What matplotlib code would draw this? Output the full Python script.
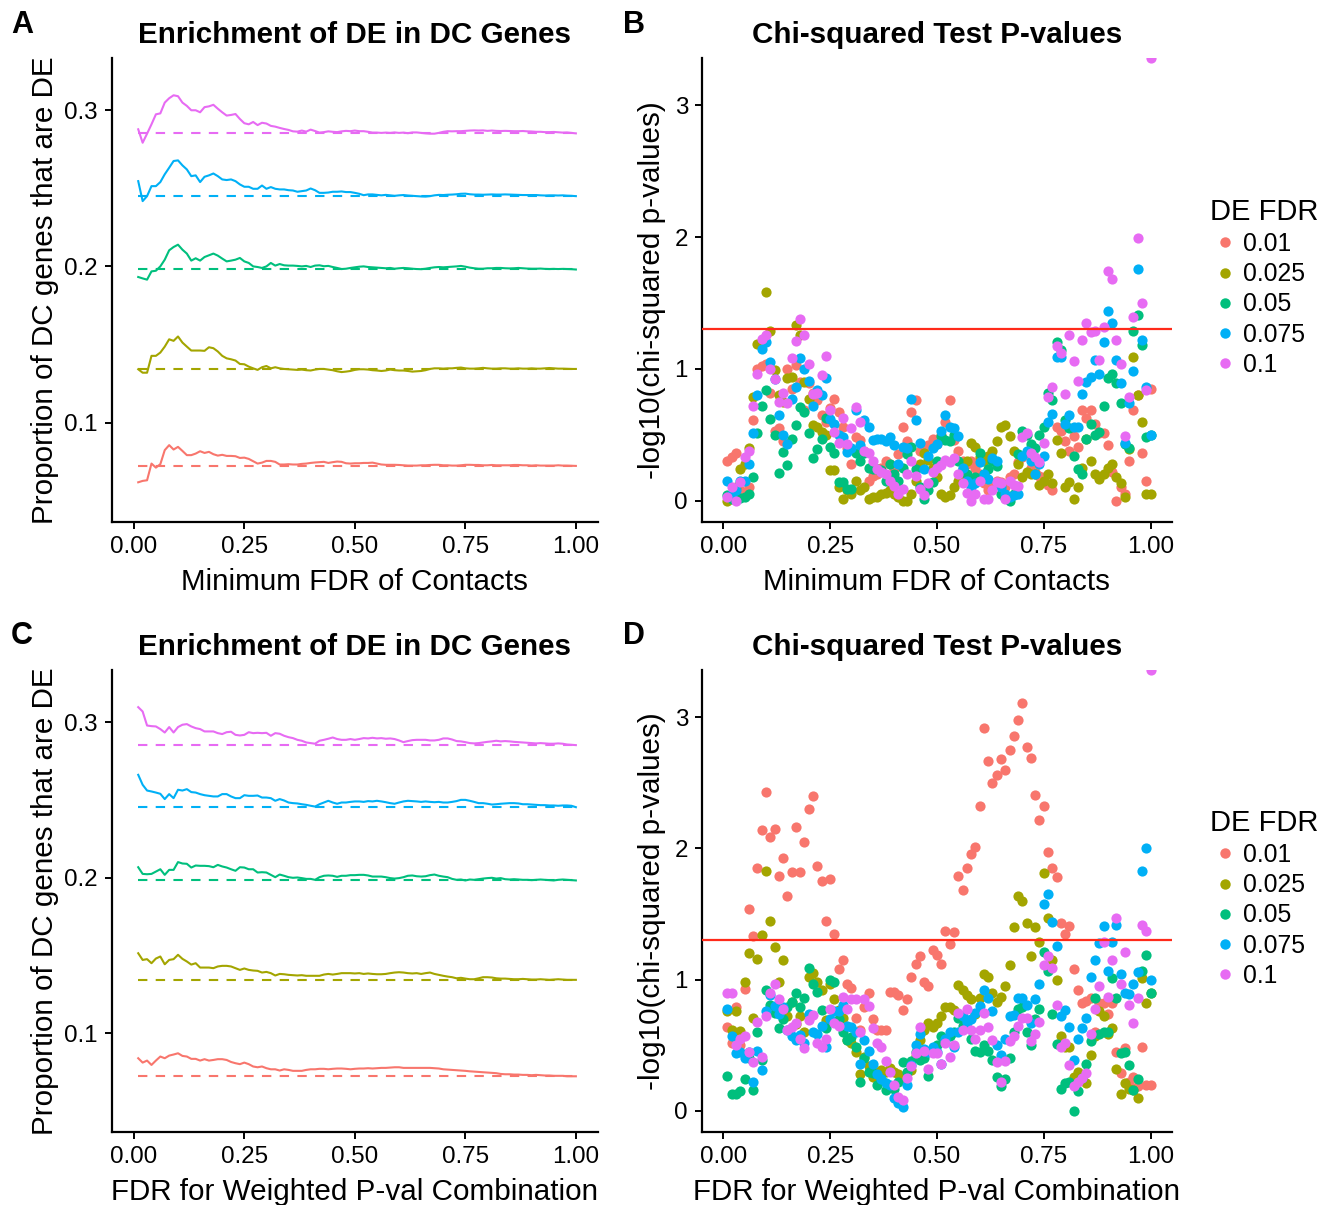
import numpy as np
import matplotlib
matplotlib.use("Agg")
import matplotlib.pyplot as plt
from matplotlib.lines import Line2D

plt.rcParams['font.family'] = ['Liberation Sans', 'DejaVu Sans']

# DE FDR levels and ggplot hue colours
fdr_labels = ["0.01", "0.025", "0.05", "0.075", "0.1"]
colors = ["#F8766D", "#A3A500", "#00BF7D", "#00B0F6", "#E76BF3"]

# FDR threshold grid (x axis of every panel)
fdr_grid = np.round(np.linspace(0.01, 1.00, 100), 2)

# background proportion of DE genes (dashed lines)
baseline = [0.0722, 0.1343, 0.1982, 0.2451, 0.2852]

# ---- Panel A : proportion DE, by minimum FDR of contacts
propA_001 = [0.0617, 0.0626, 0.0630, 0.0737, 0.0711, 0.0733, 0.0823, 0.0855, 0.0827, 0.0844,
             0.0818, 0.0791, 0.0791, 0.0801, 0.0816, 0.0805, 0.0812, 0.0797, 0.0788, 0.0793,
             0.0786, 0.0786, 0.0784, 0.0773, 0.0775, 0.0767, 0.0752, 0.0737, 0.0743, 0.0754,
             0.0754, 0.0748, 0.0731, 0.0731, 0.0733, 0.0731, 0.0731, 0.0735, 0.0737, 0.0741,
             0.0744, 0.0746, 0.0748, 0.0741, 0.0746, 0.0750, 0.0748, 0.0739, 0.0737, 0.0739,
             0.0739, 0.0741, 0.0741, 0.0743, 0.0737, 0.0731, 0.0729, 0.0729, 0.0729, 0.0728,
             0.0726, 0.0724, 0.0724, 0.0724, 0.0726, 0.0726, 0.0728, 0.0729, 0.0729, 0.0726,
             0.0726, 0.0724, 0.0724, 0.0726, 0.0729, 0.0729, 0.0728, 0.0728, 0.0726, 0.0726,
             0.0728, 0.0726, 0.0726, 0.0726, 0.0726, 0.0728, 0.0728, 0.0726, 0.0726, 0.0724,
             0.0726, 0.0724, 0.0724, 0.0724, 0.0724, 0.0726, 0.0724, 0.0724, 0.0723, 0.0722]
propA_0025 = [0.1341, 0.1319, 0.1319, 0.1427, 0.1427, 0.1448, 0.1486, 0.1533, 0.1523, 0.1551,
              0.1512, 0.1486, 0.1461, 0.1461, 0.1461, 0.1459, 0.1482, 0.1476, 0.1455, 0.1427,
              0.1411, 0.1405, 0.1397, 0.1375, 0.1373, 0.1358, 0.1347, 0.1337, 0.1354, 0.1362,
              0.1347, 0.1354, 0.1347, 0.1343, 0.1341, 0.1339, 0.1337, 0.1339, 0.1335, 0.1333,
              0.1339, 0.1343, 0.1343, 0.1339, 0.1335, 0.1328, 0.1323, 0.1326, 0.1330, 0.1337,
              0.1341, 0.1341, 0.1339, 0.1335, 0.1333, 0.1330, 0.1333, 0.1339, 0.1335, 0.1333,
              0.1333, 0.1330, 0.1326, 0.1328, 0.1330, 0.1335, 0.1343, 0.1347, 0.1347, 0.1345,
              0.1347, 0.1347, 0.1350, 0.1352, 0.1347, 0.1345, 0.1345, 0.1347, 0.1350, 0.1347,
              0.1345, 0.1345, 0.1347, 0.1347, 0.1345, 0.1345, 0.1347, 0.1345, 0.1345, 0.1347,
              0.1345, 0.1345, 0.1347, 0.1349, 0.1347, 0.1345, 0.1345, 0.1344, 0.1343, 0.1343]
propA_005 = [0.1932, 0.1923, 0.1915, 0.1968, 0.1972, 0.2000, 0.2043, 0.2103, 0.2124, 0.2139,
             0.2107, 0.2082, 0.2037, 0.2052, 0.2037, 0.2060, 0.2071, 0.2082, 0.2069, 0.2050,
             0.2032, 0.2037, 0.2043, 0.2054, 0.2032, 0.2022, 0.2000, 0.1996, 0.1990, 0.2000,
             0.2022, 0.2005, 0.2015, 0.2007, 0.2005, 0.2005, 0.2003, 0.2000, 0.2003, 0.1996,
             0.2005, 0.2007, 0.2001, 0.2003, 0.1996, 0.1990, 0.1983, 0.1985, 0.1990, 0.1994,
             0.1998, 0.2000, 0.1996, 0.1994, 0.1992, 0.1990, 0.1988, 0.1990, 0.1985, 0.1988,
             0.1990, 0.1988, 0.1985, 0.1983, 0.1982, 0.1985, 0.1990, 0.1994, 0.1996, 0.1994,
             0.1996, 0.1998, 0.2000, 0.2003, 0.1998, 0.1992, 0.1988, 0.1985, 0.1985, 0.1988,
             0.1988, 0.1990, 0.1990, 0.1988, 0.1987, 0.1988, 0.1990, 0.1988, 0.1986, 0.1985,
             0.1985, 0.1986, 0.1984, 0.1983, 0.1984, 0.1983, 0.1984, 0.1983, 0.1982, 0.1980]
propA_0075 = [0.2546, 0.2418, 0.2450, 0.2514, 0.2514, 0.2540, 0.2590, 0.2632, 0.2675, 0.2679,
              0.2647, 0.2621, 0.2578, 0.2583, 0.2540, 0.2574, 0.2583, 0.2595, 0.2578, 0.2557,
              0.2553, 0.2557, 0.2546, 0.2525, 0.2510, 0.2510, 0.2497, 0.2497, 0.2518, 0.2497,
              0.2508, 0.2497, 0.2493, 0.2493, 0.2488, 0.2486, 0.2478, 0.2482, 0.2486, 0.2499,
              0.2488, 0.2471, 0.2471, 0.2473, 0.2478, 0.2478, 0.2480, 0.2476, 0.2476, 0.2471,
              0.2465, 0.2456, 0.2461, 0.2461, 0.2458, 0.2455, 0.2458, 0.2455, 0.2452, 0.2455,
              0.2457, 0.2454, 0.2452, 0.2450, 0.2448, 0.2447, 0.2450, 0.2455, 0.2458, 0.2457,
              0.2459, 0.2460, 0.2462, 0.2465, 0.2466, 0.2462, 0.2460, 0.2460, 0.2459, 0.2460,
              0.2461, 0.2460, 0.2460, 0.2461, 0.2460, 0.2459, 0.2458, 0.2457, 0.2457, 0.2457,
              0.2457, 0.2455, 0.2454, 0.2455, 0.2455, 0.2454, 0.2455, 0.2453, 0.2452, 0.2450]
propA_01 = [0.2878, 0.2792, 0.2850, 0.2910, 0.2974, 0.2980, 0.3049, 0.3077, 0.3096, 0.3090,
            0.3049, 0.3028, 0.3000, 0.3000, 0.2987, 0.3020, 0.3025, 0.3035, 0.3010, 0.2987,
            0.2966, 0.2970, 0.2976, 0.2944, 0.2917, 0.2910, 0.2925, 0.2905, 0.2920, 0.2915,
            0.2900, 0.2895, 0.2887, 0.2880, 0.2874, 0.2865, 0.2863, 0.2870, 0.2863, 0.2876,
            0.2867, 0.2857, 0.2860, 0.2865, 0.2862, 0.2860, 0.2865, 0.2868, 0.2866, 0.2870,
            0.2866, 0.2866, 0.2862, 0.2857, 0.2857, 0.2855, 0.2857, 0.2855, 0.2858, 0.2855,
            0.2857, 0.2853, 0.2858, 0.2858, 0.2855, 0.2852, 0.2850, 0.2850, 0.2855, 0.2862,
            0.2866, 0.2865, 0.2866, 0.2866, 0.2868, 0.2870, 0.2871, 0.2870, 0.2871, 0.2868,
            0.2870, 0.2868, 0.2867, 0.2868, 0.2867, 0.2866, 0.2866, 0.2867, 0.2865, 0.2864,
            0.2862, 0.2862, 0.2860, 0.2860, 0.2861, 0.2859, 0.2857, 0.2858, 0.2855, 0.2852]

# ---- Panel C : proportion DE, by FDR of weighted p-value combination
propC_001 = [0.0839, 0.0811, 0.0824, 0.0796, 0.0824, 0.0850, 0.0839, 0.0856, 0.0863, 0.0871,
             0.0854, 0.0850, 0.0835, 0.0835, 0.0824, 0.0833, 0.0824, 0.0828, 0.0833, 0.0833,
             0.0828, 0.0815, 0.0807, 0.0801, 0.0811, 0.0801, 0.0786, 0.0781, 0.0786, 0.0775,
             0.0768, 0.0768, 0.0760, 0.0768, 0.0764, 0.0758, 0.0758, 0.0758, 0.0764, 0.0768,
             0.0768, 0.0771, 0.0771, 0.0768, 0.0771, 0.0773, 0.0773, 0.0771, 0.0768, 0.0771,
             0.0773, 0.0773, 0.0775, 0.0773, 0.0775, 0.0777, 0.0777, 0.0779, 0.0781, 0.0781,
             0.0777, 0.0777, 0.0777, 0.0777, 0.0777, 0.0777, 0.0777, 0.0775, 0.0773, 0.0768,
             0.0766, 0.0764, 0.0762, 0.0760, 0.0758, 0.0755, 0.0753, 0.0751, 0.0749, 0.0747,
             0.0745, 0.0743, 0.0738, 0.0736, 0.0736, 0.0734, 0.0734, 0.0732, 0.0732, 0.0730,
             0.0732, 0.0730, 0.0728, 0.0728, 0.0726, 0.0726, 0.0726, 0.0723, 0.0723, 0.0723]
propC_0025 = [0.1514, 0.1471, 0.1476, 0.1450, 0.1480, 0.1493, 0.1443, 0.1471, 0.1476, 0.1504,
              0.1478, 0.1461, 0.1441, 0.1450, 0.1422, 0.1422, 0.1422, 0.1418, 0.1429, 0.1433,
              0.1433, 0.1429, 0.1418, 0.1407, 0.1416, 0.1407, 0.1403, 0.1401, 0.1390, 0.1394,
              0.1386, 0.1371, 0.1381, 0.1379, 0.1375, 0.1373, 0.1371, 0.1373, 0.1369, 0.1369,
              0.1369, 0.1369, 0.1377, 0.1381, 0.1377, 0.1381, 0.1386, 0.1386, 0.1386, 0.1384,
              0.1386, 0.1381, 0.1384, 0.1381, 0.1379, 0.1379, 0.1381, 0.1386, 0.1390, 0.1392,
              0.1390, 0.1386, 0.1384, 0.1386, 0.1381, 0.1386, 0.1390, 0.1381, 0.1375, 0.1369,
              0.1364, 0.1360, 0.1353, 0.1356, 0.1351, 0.1347, 0.1347, 0.1353, 0.1360, 0.1360,
              0.1358, 0.1353, 0.1351, 0.1351, 0.1349, 0.1347, 0.1347, 0.1349, 0.1347, 0.1345,
              0.1345, 0.1347, 0.1345, 0.1343, 0.1345, 0.1347, 0.1345, 0.1343, 0.1343, 0.1343]
propC_005 = [0.2067, 0.2024, 0.2022, 0.2024, 0.2039, 0.2054, 0.2018, 0.2050, 0.2050, 0.2100,
             0.2091, 0.2089, 0.2065, 0.2078, 0.2076, 0.2076, 0.2074, 0.2067, 0.2082, 0.2072,
             0.2065, 0.2054, 0.2044, 0.2067, 0.2065, 0.2054, 0.2054, 0.2033, 0.2035, 0.2033,
             0.2018, 0.2003, 0.2020, 0.2012, 0.2003, 0.1999, 0.2001, 0.1997, 0.1992, 0.1992,
             0.1986, 0.2003, 0.2012, 0.2014, 0.2012, 0.2005, 0.2012, 0.2012, 0.2016, 0.2016,
             0.2018, 0.2018, 0.2014, 0.2007, 0.2007, 0.2007, 0.2003, 0.1997, 0.1994, 0.1997,
             0.2003, 0.2012, 0.2014, 0.2009, 0.2007, 0.2009, 0.2016, 0.2020, 0.2012, 0.2007,
             0.2003, 0.1992, 0.1986, 0.1988, 0.1982, 0.1988, 0.1986, 0.1990, 0.1994, 0.1997,
             0.1999, 0.1994, 0.1997, 0.1990, 0.1988, 0.1990, 0.1988, 0.1986, 0.1986, 0.1984,
             0.1986, 0.1988, 0.1986, 0.1984, 0.1982, 0.1986, 0.1988, 0.1986, 0.1984, 0.1982]
propC_0075 = [0.2661, 0.2597, 0.2560, 0.2554, 0.2547, 0.2539, 0.2505, 0.2537, 0.2511, 0.2565,
              0.2560, 0.2569, 0.2550, 0.2547, 0.2537, 0.2530, 0.2526, 0.2522, 0.2522, 0.2537,
              0.2537, 0.2522, 0.2511, 0.2511, 0.2530, 0.2526, 0.2526, 0.2528, 0.2515, 0.2515,
              0.2511, 0.2494, 0.2505, 0.2496, 0.2483, 0.2479, 0.2477, 0.2472, 0.2468, 0.2462,
              0.2457, 0.2472, 0.2483, 0.2494, 0.2483, 0.2475, 0.2483, 0.2483, 0.2487, 0.2490,
              0.2490, 0.2487, 0.2492, 0.2490, 0.2494, 0.2490, 0.2485, 0.2479, 0.2475, 0.2483,
              0.2490, 0.2494, 0.2492, 0.2490, 0.2487, 0.2490, 0.2487, 0.2485, 0.2487, 0.2483,
              0.2483, 0.2487, 0.2492, 0.2500, 0.2500, 0.2494, 0.2487, 0.2479, 0.2479, 0.2475,
              0.2470, 0.2472, 0.2475, 0.2477, 0.2479, 0.2479, 0.2477, 0.2472, 0.2472, 0.2470,
              0.2468, 0.2466, 0.2466, 0.2464, 0.2464, 0.2462, 0.2464, 0.2464, 0.2462, 0.2453]
propC_01 = [0.3096, 0.3068, 0.2978, 0.2974, 0.2972, 0.2955, 0.2933, 0.2968, 0.2933, 0.2968,
            0.2983, 0.2987, 0.2972, 0.2961, 0.2955, 0.2940, 0.2940, 0.2940, 0.2929, 0.2923,
            0.2935, 0.2938, 0.2918, 0.2914, 0.2918, 0.2935, 0.2929, 0.2931, 0.2929, 0.2931,
            0.2912, 0.2929, 0.2925, 0.2912, 0.2903, 0.2897, 0.2886, 0.2880, 0.2869, 0.2865,
            0.2861, 0.2880, 0.2886, 0.2893, 0.2901, 0.2891, 0.2886, 0.2886, 0.2891, 0.2886,
            0.2891, 0.2897, 0.2895, 0.2899, 0.2895, 0.2897, 0.2893, 0.2895, 0.2891, 0.2882,
            0.2871, 0.2878, 0.2884, 0.2886, 0.2886, 0.2886, 0.2882, 0.2882, 0.2886, 0.2895,
            0.2895, 0.2888, 0.2878, 0.2876, 0.2871, 0.2865, 0.2863, 0.2865, 0.2869, 0.2873,
            0.2876, 0.2880, 0.2876, 0.2878, 0.2876, 0.2873, 0.2871, 0.2869, 0.2867, 0.2865,
            0.2863, 0.2865, 0.2863, 0.2861, 0.2861, 0.2863, 0.2861, 0.2856, 0.2854, 0.2852]

# ---- Panel B : -log10 chi-squared p-values, by minimum FDR of contacts (inf = p of 0)
chiB_001 = [0.30, 0.33, 0.36, 0.08, 0.06, 0.10, 0.61, 1.00, 1.02, 1.04, 0.82, 0.53, 0.55, 0.45, 1.00,
            0.85, 1.03, 0.90, 0.69, 0.89, 0.82, 0.76, 0.65, 0.60, 0.70, 0.77, 0.67, 0.56, 0.40, 0.28,
            0.48, 0.46, 0.38, 0.15, 0.19, 0.20, 0.25, 0.30, 0.28, 0.24, 0.35, 0.56, 0.45, 0.67, 0.76,
            0.38, 0.40, 0.42, 0.47, 0.43, 0.50, 0.60, 0.76, 0.46, 0.38, 0.30, 0.28, 0.30, 0.25, 0.20,
            0.13, 0.08, 0.12, 0.15, 0.14, 0.10, 0.18, 0.20, 0.29, 0.33, 0.36, 0.25, 0.22, 0.19, 0.18,
            0.12, 0.08, 0.56, 0.53, 0.45, 0.38, 0.49, 0.41, 0.69, 0.63, 0.69, 0.58, 0.51, 0.51, 0.42,
            0.22, 0.00, 0.10, 0.05, 0.30, 0.69, 0.80, 0.36, 0.15, 0.85]
chiB_0025 = [0.00, 0.02, 0.10, 0.24, 0.28, 0.40, 0.79, 1.19, 1.20, 1.58, 1.29, 0.99, 0.80, 0.75, 0.93,
             0.94, 1.33, 1.26, 0.90, 0.77, 0.57, 0.56, 0.52, 0.50, 0.23, 0.23, 0.10, 0.01, 0.08, 0.05,
             0.15, 0.08, 0.10, 0.01, 0.03, 0.03, 0.05, 0.06, 0.08, 0.05, 0.03, 0.00, 0.00, 0.05, 0.15,
             0.28, 0.36, 0.31, 0.25, 0.18, 0.05, 0.03, 0.04, 0.10, 0.15, 0.17, 0.30, 0.44, 0.41, 0.33,
             0.30, 0.34, 0.38, 0.45, 0.56, 0.57, 0.49, 0.38, 0.28, 0.18, 0.22, 0.20, 0.20, 0.12, 0.15,
             0.20, 0.13, 0.46, 0.36, 0.10, 0.14, 0.01, 0.10, 0.25, 0.47, 0.30, 0.20, 0.16, 0.20, 0.25,
             0.28, 0.18, 0.13, 0.03, 0.39, 1.09, 0.80, 0.60, 0.05, 0.05]
chiB_005 = [0.04, 0.01, 0.03, 0.02, 0.03, 0.05, 0.18, 0.51, 0.72, 0.84, 0.62, 0.50, 0.21, 0.37, 0.27,
            0.47, 0.57, 0.71, 0.67, 0.51, 0.32, 0.39, 0.47, 0.63, 0.41, 0.36, 0.14, 0.14, 0.09, 0.09,
            0.36, 0.30, 0.36, 0.25, 0.24, 0.24, 0.23, 0.15, 0.28, 0.20, 0.15, 0.25, 0.35, 0.41, 0.24,
            0.10, 0.01, 0.08, 0.14, 0.30, 0.49, 0.46, 0.45, 0.50, 0.30, 0.24, 0.20, 0.13, 0.18, 0.36,
            0.20, 0.24, 0.30, 0.26, 0.05, 0.02, 0.00, 0.05, 0.35, 0.53, 0.50, 0.43, 0.40, 0.50, 0.56,
            0.82, 0.76, 1.20, 1.14, 0.61, 0.55, 0.34, 0.24, 0.20, 0.47, 0.58, 0.50, 0.52, 0.72, 0.93,
            0.96, 0.89, 0.74, 0.43, 0.40, 1.29, 1.41, 1.18, 0.48, 0.50]
chiB_0075 = [0.15, 0.05, 0.08, 0.15, 0.15, 0.28, 0.51, 0.80, 1.15, 1.20, 1.05, 0.92, 0.65, 0.50, 0.43,
             0.77, 0.86, 1.08, 1.00, 0.91, 0.72, 0.84, 0.80, 0.93, 0.62, 0.58, 0.50, 0.48, 0.37, 0.40,
             0.69, 0.42, 0.61, 0.56, 0.46, 0.47, 0.47, 0.45, 0.48, 0.42, 0.28, 0.41, 0.40, 0.77, 0.61,
             0.44, 0.24, 0.34, 0.40, 0.43, 0.53, 0.65, 0.56, 0.55, 0.49, 0.25, 0.15, 0.10, 0.13, 0.29,
             0.20, 0.16, 0.32, 0.30, 0.10, 0.05, 0.03, 0.04, 0.05, 0.34, 0.38, 0.30, 0.20, 0.28, 0.34,
             0.60, 0.66, 1.09, 1.09, 0.58, 0.65, 0.56, 0.56, 0.81, 0.90, 0.94, 1.07, 0.96, 1.20, 1.44,
             1.35, 1.07, 0.89, 0.44, 0.74, 0.98, 1.76, 1.22, 0.86, 0.50]
chiB_01 = [0.03, 0.10, 0.00, 0.14, 0.33, 0.38, 0.72, 0.96, 1.23, 1.26, 1.00, 0.92, 0.75, 0.82, 0.74,
           1.08, 1.21, 1.38, 1.26, 1.04, 0.81, 0.82, 0.95, 1.10, 0.69, 0.52, 0.44, 0.63, 0.43, 0.55,
           0.71, 0.60, 0.38, 0.36, 0.30, 0.24, 0.22, 0.20, 0.15, 0.11, 0.05, 0.09, 0.20, 0.30, 0.19,
           0.09, 0.04, 0.13, 0.22, 0.25, 0.27, 0.31, 0.29, 0.32, 0.20, 0.13, 0.06, 0.00, 0.05, 0.15,
           0.01, 0.01, 0.08, 0.14, 0.13, 0.01, 0.15, 0.12, 0.11, 0.48, 0.51, 0.36, 0.33, 0.29, 0.44,
           0.79, 0.86, 1.17, 1.12, 0.81, 1.26, 1.06, 0.91, 1.22, 1.35, 1.28, 1.29, 1.07, 1.32, 1.74,
           1.68, 1.22, 1.04, 0.49, 0.79, 1.39, 1.99, 1.50, 0.84, np.inf]

# ---- Panel D : -log10 chi-squared p-values, by FDR of weighted p-value combination
chiD_001 = [0.64, 0.52, 0.79, 0.50, 0.93, 1.54, 1.33, 1.85, 2.14, 2.43, 2.09, 2.15, 1.79, 1.93, 1.64,
            1.82, 2.16, 1.82, 2.05, 2.30, 2.40, 1.87, 1.75, 1.45, 1.77, 1.35, 1.08, 1.15, 0.97, 0.94,
            0.71, 0.62, 0.79, 0.90, 0.70, 0.62, 0.62, 0.62, 0.91, 0.91, 0.88, 0.77, 0.85, 1.02, 1.12,
            1.18, 0.98, 0.95, 1.23, 1.19, 1.12, 1.37, 1.27, 1.36, 1.79, 1.68, 1.85, 1.96, 2.01, 2.32,
            2.92, 2.67, 2.50, 2.56, 2.68, 2.60, 2.75, 2.86, 2.98, 3.11, 2.77, 2.69, 2.41, 2.22, 2.32,
            1.97, 1.85, 1.78, 1.43, 1.35, 1.41, 1.08, 0.92, 0.82, 0.84, 0.86, 0.60, 0.82, 0.82, 0.74,
            0.82, 0.45, 0.29, 0.48, 0.22, 0.26, 0.19, 0.49, 0.20, 0.20]
chiD_0025 = [0.76, 0.62, 0.76, 0.61, 0.98, 1.20, 0.71, 1.16, 1.34, 1.83, 1.45, 1.25, 0.98, 1.15, 0.72,
             0.83, 0.66, 0.72, 0.60, 1.02, 1.05, 0.98, 0.92, 0.69, 0.97, 0.85, 0.77, 0.71, 0.54, 0.52,
             0.45, 0.28, 0.41, 0.34, 0.26, 0.30, 0.31, 0.30, 0.33, 0.30, 0.28, 0.26, 0.29, 0.31, 0.42,
             0.54, 0.62, 0.67, 0.64, 0.67, 0.72, 0.79, 0.79, 0.77, 0.96, 0.92, 0.88, 0.85, 0.74, 0.86,
             1.04, 1.02, 0.90, 0.83, 0.87, 0.95, 1.11, 1.40, 1.64, 1.60, 1.43, 1.18, 1.40, 1.29, 1.81,
             1.47, 1.15, 1.00, 0.57, 0.49, 0.49, 0.26, 0.30, 0.25, 0.21, 0.43, 0.57, 0.76, 0.72, 0.59,
             0.63, 0.32, 0.13, 0.21, 0.17, 0.16, 0.10, 1.01, 0.82, 0.90]
chiD_005 = [0.27, 0.13, 0.13, 0.15, 0.24, 0.40, 0.16, 0.60, 0.39, 0.92, 0.81, 0.75, 0.63, 0.70, 0.79,
            0.83, 0.90, 0.79, 0.86, 1.09, 0.97, 0.91, 0.77, 0.63, 1.00, 0.98, 0.70, 0.60, 0.54, 0.56,
            0.49, 0.22, 0.40, 0.30, 0.29, 0.20, 0.24, 0.16, 0.18, 0.17, 0.22, 0.37, 0.30, 0.38, 0.45,
            0.39, 0.40, 0.27, 0.45, 0.50, 0.57, 0.55, 0.57, 0.60, 0.71, 0.65, 0.68, 0.55, 0.46, 0.45,
            0.50, 0.46, 0.39, 0.26, 0.19, 0.24, 0.40, 0.60, 0.78, 0.79, 0.60, 0.50, 0.70, 0.78, 1.21,
            1.07, 0.74, 0.51, 0.17, 0.21, 0.22, 0.00, 0.15, 0.25, 0.36, 0.53, 0.86, 0.59, 0.60, 0.60,
            1.01, 0.86, 0.44, 0.45, 0.35, 0.16, 0.24, 1.07, 1.19, 0.90]
chiD_0075 = [0.78, 0.57, 0.44, 0.45, 0.40, 0.45, 0.22, 0.46, 0.31, 0.76, 0.88, 0.80, 0.74, 0.79, 0.62,
             0.57, 0.54, 0.58, 0.52, 0.74, 0.60, 0.59, 0.65, 0.49, 0.70, 0.76, 0.76, 0.81, 0.65, 0.64,
             0.60, 0.36, 0.54, 0.46, 0.36, 0.28, 0.24, 0.21, 0.20, 0.10, 0.06, 0.03, 0.20, 0.35, 0.50,
             0.59, 0.47, 0.45, 0.49, 0.45, 0.36, 0.55, 0.60, 0.49, 0.60, 0.72, 0.68, 0.70, 0.75, 0.80,
             0.92, 0.86, 0.76, 0.50, 0.43, 0.55, 0.72, 0.73, 0.86, 0.86, 0.81, 0.67, 0.85, 0.97, 1.58,
             1.65, 1.44, 1.26, 0.72, 0.77, 0.64, 0.39, 0.55, 0.63, 0.71, 1.02, 1.15, 1.28, 1.41, 1.07,
             1.29, 1.42, 1.04, 0.90, 0.89, 0.97, 1.06, 1.83, 2.00, 1.00]
chiD_01 = [0.90, 0.90, 0.50, 0.55, 0.57, 0.45, 0.37, 0.68, 0.41, 0.72, 0.90, 0.97, 0.85, 0.78, 0.62,
           0.64, 0.67, 0.55, 0.48, 0.69, 0.73, 0.52, 0.49, 0.55, 0.78, 0.67, 0.65, 0.87, 0.78, 0.85,
           0.85, 0.60, 0.85, 0.80, 0.63, 0.52, 0.49, 0.38, 0.30, 0.20, 0.11, 0.08, 0.25, 0.34, 0.44,
           0.64, 0.46, 0.32, 0.44, 0.44, 0.36, 0.52, 0.41, 0.50, 0.75, 0.62, 0.78, 0.62, 0.55, 0.62,
           0.75, 0.64, 0.54, 0.37, 0.22, 0.38, 0.53, 0.57, 0.65, 0.71, 0.71, 0.53, 0.59, 0.68, 1.11,
           1.18, 1.09, 0.81, 0.49, 0.52, 0.35, 0.19, 0.22, 0.25, 0.29, 0.59, 0.78, 0.95, 1.29, 0.87,
           1.15, 1.47, 0.97, 1.21, 0.81, 0.67, 0.86, 1.42, 1.37, np.inf]

propA = [propA_001, propA_0025, propA_005, propA_0075, propA_01]
propC = [propC_001, propC_0025, propC_005, propC_0075, propC_01]
chiB = [chiB_001, chiB_0025, chiB_005, chiB_0075, chiB_01]
chiD = [chiD_001, chiD_0025, chiD_005, chiD_0075, chiD_01]

sig_line = -np.log10(0.05)
title_size = 21.3
label_size = 21.3
tick_size = 17.4

fig = plt.figure(figsize=(13.25, 12.05), dpi=100)
axA = fig.add_axes([0.0843, 0.5671, 0.3670, 0.3848])
axB = fig.add_axes([0.5297, 0.5671, 0.3548, 0.3848])
axC = fig.add_axes([0.0843, 0.0606, 0.3670, 0.3834])
axD = fig.add_axes([0.5297, 0.0606, 0.3548, 0.3834])


def style(ax):
    for s in ['top', 'right']:
        ax.spines[s].set_visible(False)
    for s in ['left', 'bottom']:
        ax.spines[s].set_linewidth(1.6)
    ax.tick_params(length=5, width=1.4, labelsize=tick_size, colors='black', pad=5)
    ax.set_xlim(-0.05, 1.05)
    ax.set_xticks([0, 0.25, 0.5, 0.75, 1.0])
    ax.set_xticklabels(["0.00", "0.25", "0.50", "0.75", "1.00"])


def draw_props(ax, props, xlabel):
    for vals, base, col in zip(props, baseline, colors):
        ax.plot(fdr_grid, [base] * len(fdr_grid), color=col, lw=1.5, ls=(0, (4.5, 4)))
        ax.plot(fdr_grid, vals, color=col, lw=1.5)
    style(ax)
    ax.set_ylim(0.0365, 0.3335)
    ax.set_yticks([0.1, 0.2, 0.3])
    ax.set_yticklabels(["0.1", "0.2", "0.3"])
    ax.set_title("Enrichment of DE in DC Genes", fontsize=title_size, fontweight='bold', pad=11)
    ax.set_xlabel(xlabel, fontsize=label_size, labelpad=7.5)
    ax.set_ylabel("Proportion of DC genes that are DE", fontsize=label_size, labelpad=4)


def draw_chi(ax, chis, xlabel, leg_y):
    ytop = 3.36
    for vals, col in zip(chis, colors):
        v = np.minimum(np.array(vals, dtype=float), ytop)
        ax.scatter(fdr_grid, v, s=54, color=col, linewidths=0, clip_on=True, zorder=2)
    ax.axhline(sig_line, color='#FF2A1A', lw=1.6, zorder=3)
    style(ax)
    ax.set_ylim(-0.16, ytop)
    ax.set_yticks([0, 1, 2, 3])
    ax.set_title("Chi-squared Test P-values", fontsize=title_size, fontweight='bold', pad=11)
    ax.set_xlabel(xlabel, fontsize=label_size, labelpad=7.5)
    ax.set_ylabel("-log10(chi-squared p-values)", fontsize=label_size, labelpad=6)
    handles = [Line2D([], [], ls='none', marker='o', markersize=7.5, color=c, markeredgewidth=0)
               for c in colors]
    ax.legend(handles, fdr_labels, title="DE FDR", loc='upper left',
              bbox_to_anchor=(1200 / 1325, leg_y), bbox_transform=fig.transFigure,
              frameon=False, fontsize=17.8, title_fontsize=21, alignment='left',
              handletextpad=0.15, labelspacing=0.25, handlelength=1.2, borderaxespad=0)


draw_props(axA, propA, "Minimum FDR of Contacts")
draw_props(axC, propC, "FDR for Weighted P-val Combination")
draw_chi(axB, chiB, "Minimum FDR of Contacts", 1 - 188 / 1205)
draw_chi(axD, chiD, "FDR for Weighted P-val Combination", 1 - 799 / 1205)

for lab, x, y in [("A", 22, 25), ("B", 634, 25), ("C", 22, 636), ("D", 634, 636)]:
    fig.text(x / 1325, 1 - y / 1205, lab, fontsize=22, fontweight='bold', ha='center', va='center')

fig.savefig("out.png", dpi=100)
